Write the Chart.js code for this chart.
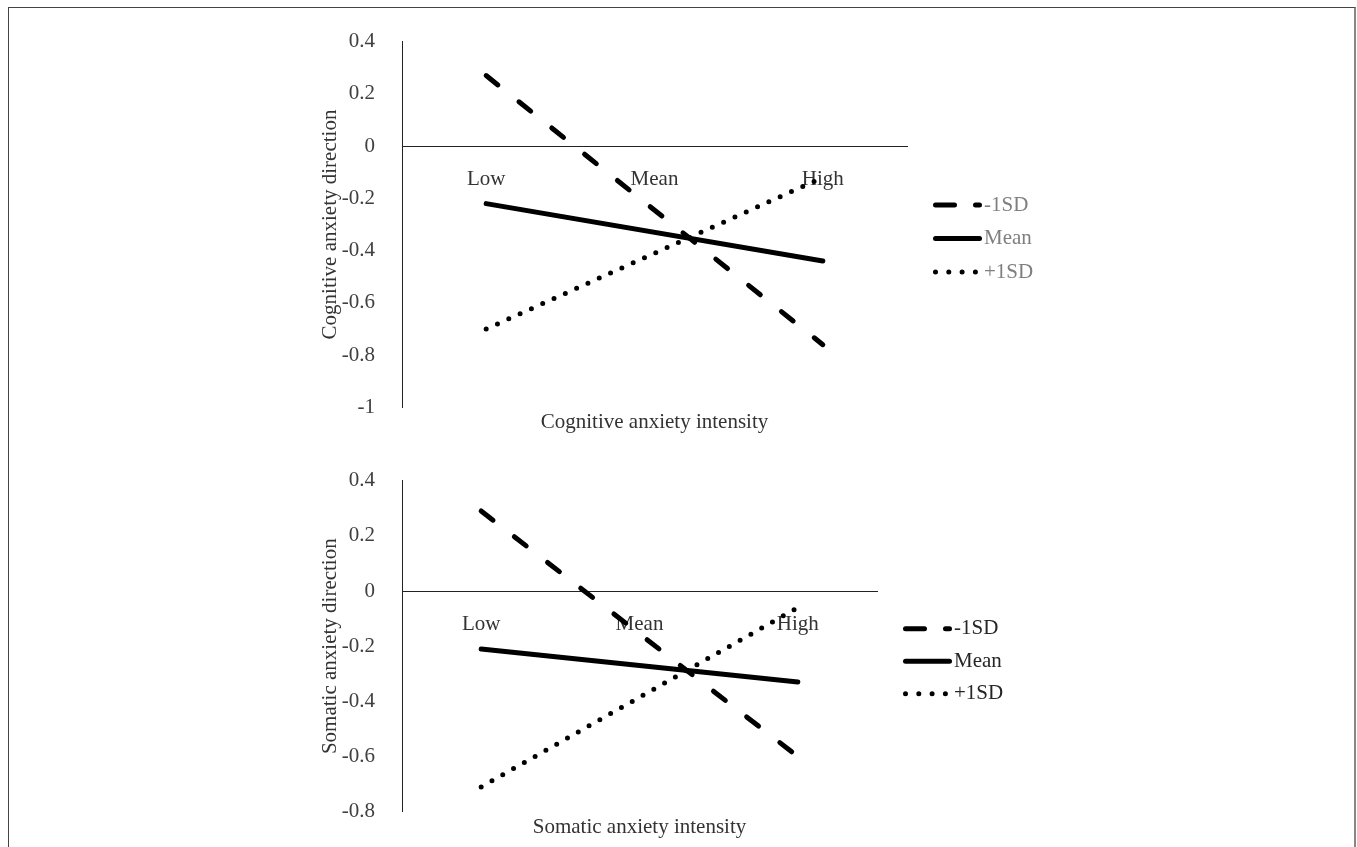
<!DOCTYPE html>
<html>
<head>
<meta charset="utf-8">
<title>Anxiety intensity and direction</title>
<script src="https://cdn.jsdelivr.net/npm/chart.js@4/dist/chart.umd.min.js"></script>
<style>
    body { margin: 0; background: #fff; }
    #frame {
        position: absolute; left: 8px; top: 7px; width: 1345px; height: 900px;
        border-left: 1px solid #444; border-top: 1px solid #444; border-right: 2px solid #888;
    }
    canvas { position: absolute; }
    #cognitiveChart { left: 310px; top: 10px; }
    #somaticChart { left: 310px; top: 449px; }
</style>
</head>
<body>
<div id="frame"></div>
<canvas id="cognitiveChart" width="766" height="429"></canvas>
<canvas id="somaticChart" width="766" height="395"></canvas>
<script>
// Data (Mean category has no point of its own)
const categories = ['Low', 'Mean', 'High'];
const seriesLabels = ['-1SD', 'Mean', '+1SD'];

const cognitiveMinus1SD = [0.27, null, -0.76];
const cognitiveMean = [-0.22, null, -0.44];
const cognitivePlus1SD = [-0.70, null, -0.12];

const somaticMinus1SD = [0.29, null, -0.60];
const somaticMean = [-0.21, null, -0.33];
const somaticPlus1SD = [-0.71, null, -0.06];

const serif = '"Liberation Serif", "Times New Roman", serif';
const textColor = '#333';

// Legend drawn to the right of the plot, Excel style (line sample + label)
const sideLegend = {
    id: 'sideLegend',
    afterDraw(chart, args, opts) {
        const { ctx, chartArea } = chart;
        const x0 = chartArea.right + opts.gap;
        const midY = (chartArea.top + chartArea.bottom) / 2 + opts.offset;
        ctx.save();
        chart.data.datasets.forEach((ds, i) => {
            const y = midY + (i - 1) * opts.spacing;
            ctx.beginPath();
            ctx.lineWidth = ds.borderWidth;
            ctx.strokeStyle = ds.borderColor;
            ctx.lineCap = 'round';
            ctx.setLineDash(ds.legendDash || []);
            ctx.moveTo(x0 + 2.5, y);
            ctx.lineTo(x0 + 2.5 + opts.sampleLength, y);
            ctx.stroke();
            ctx.setLineDash([]);
            ctx.fillStyle = opts.color;
            ctx.font = '21px ' + serif;
            ctx.textBaseline = 'middle';
            ctx.textAlign = 'left';
            ctx.fillText(ds.label, x0 + opts.sampleLength + 7, y);
        });
        ctx.restore();
    }
};

function buildDatasets(minus, mean, plus) {
    return [
        {
            label: seriesLabels[0], data: minus,
            borderColor: '#000', borderWidth: 5, borderCapStyle: 'round',
            borderDash: [15, 27], legendDash: [19, 21]
        },
        {
            label: seriesLabels[1], data: mean,
            borderColor: '#000', borderWidth: 5, borderCapStyle: 'round'
        },
        {
            label: seriesLabels[2], data: plus,
            borderColor: '#000', borderWidth: 5, borderCapStyle: 'round',
            borderDash: [0, 12.4], legendDash: [0, 13.3]
        }
    ];
}

function makeChart(canvasId, cfg) {
    const ctx = document.getElementById(canvasId).getContext('2d');
    return new Chart(ctx, {
        type: 'line',
        data: {
            labels: categories,
            datasets: buildDatasets(cfg.minus, cfg.mean, cfg.plus)
        },
        plugins: [sideLegend],
        options: {
            responsive: false,
            animation: false,
            spanGaps: true,
            elements: { point: { radius: 0 }, line: { tension: 0 } },
            layout: { padding: { left: 0, top: 25, right: cfg.rightPad, bottom: 0 } },
            scales: {
                x: {
                    type: 'category',
                    position: { y: 0 },
                    offset: true,
                    grid: { display: false },
                    border: { display: true, color: '#222', width: 1 },
                    ticks: { padding: 13, color: textColor, font: { family: serif, size: 21 } }
                },
                y: {
                    min: cfg.yMin,
                    max: cfg.yMax,
                    grid: { display: false },
                    border: { display: true, color: '#222', width: 1 },
                    ticks: {
                        stepSize: 0.2,
                        padding: 19,
                        color: '#404040',
                        font: { family: serif, size: 21 },
                        callback: (v) => String(+Number(v).toFixed(1))
                    },
                    title: {
                        display: true,
                        text: cfg.yTitle,
                        color: textColor,
                        font: { family: serif, size: 21 },
                        padding: { top: 8, bottom: 0 }
                    },
                    afterFit(scale) { scale.width = 92; }
                }
            },
            plugins: {
                legend: { display: false },
                tooltip: { enabled: false },
                title: {
                    display: true,
                    position: 'bottom',
                    fullSize: false,
                    text: cfg.xTitle,
                    color: textColor,
                    font: { family: serif, size: 21, weight: 'normal' },
                    padding: { top: cfg.titleTop, bottom: 4 }
                },
                sideLegend: {
                    gap: 26, offset: cfg.legendOffset, spacing: cfg.legendSpacing,
                    sampleLength: 44, color: cfg.legendColor
                }
            }
        }
    });
}

makeChart('cognitiveChart', {
    minus: cognitiveMinus1SD, mean: cognitiveMean, plus: cognitivePlus1SD,
    yMin: -1, yMax: 0.4, rightPad: 169,
    yTitle: 'Cognitive anxiety direction',
    xTitle: 'Cognitive anxiety intensity',
    titleTop: 2, legendOffset: 14, legendSpacing: 33.5, legendColor: '#7f7f7f'
});

makeChart('somaticChart', {
    minus: somaticMinus1SD, mean: somaticMean, plus: somaticPlus1SD,
    yMin: -0.8, yMax: 0.4, rightPad: 199,
    yTitle: 'Somatic anxiety direction',
    xTitle: 'Somatic anxiety intensity',
    titleTop: 3, legendOffset: 15, legendSpacing: 32.5, legendColor: '#262626'
});
</script>
</body>
</html>
